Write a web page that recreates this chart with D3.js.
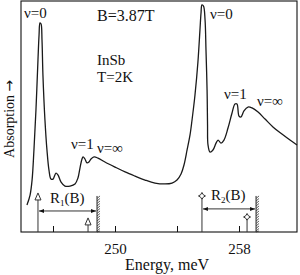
<!DOCTYPE html>
<html>
<head>
<meta charset="utf-8">
<script src="https://cdn.jsdelivr.net/npm/d3@7"></script>
<style>
  body { margin: 0; background: #fff; }
</style>
</head>
<body>
<div id="chart"></div>
<script>
// spectrum (energy in meV, absorption in arbitrary units)
var energy = [244.32, 244.52, 244.65, 244.77, 244.90, 245.03, 245.10, 245.16, 245.23, 245.29,
  245.35, 245.48, 245.61, 245.74, 245.87, 246.00, 246.19, 246.32, 246.52, 246.77,
  247.10, 247.42, 247.61, 247.74, 247.87, 247.94, 248.06, 248.19, 248.32, 248.45,
  248.65, 248.90, 249.35, 250.00, 250.65, 251.29, 251.94, 252.58, 253.23, 253.68,
  254.00, 254.26, 254.45, 254.65, 254.84, 254.97, 255.16, 255.35, 255.48, 255.55,
  255.61, 255.71, 255.81, 255.87, 255.94, 255.97, 256.00, 256.13, 256.32, 256.52,
  256.65, 256.84, 257.03, 257.29, 257.55, 257.74, 257.87, 258.00, 258.13, 258.32,
  258.58, 258.84, 259.23, 259.68, 260.19, 260.77, 261.29, 261.74];
var absorption = [11.7, 16.0, 22.5, 35.5, 52.8, 74.5, 85.3, 90.5, 90.0, 83.1,
  68.0, 48.5, 35.5, 26.8, 22.9, 22.9, 25.5, 24.7, 21.6, 19.9,
  19.9, 20.8, 23.4, 27.7, 31.6, 32.5, 31.6, 29.9, 30.3, 31.6,
  32.5, 32.0, 30.3, 28.1, 26.0, 24.2, 22.5, 21.2, 20.8, 21.2,
  22.5, 25.1, 29.0, 35.5, 42.0, 48.5, 59.3, 73.6, 87.4, 94.8,
  98.3, 97.8, 91.8, 78.8, 61.5, 46.3, 37.7, 34.6, 35.5, 38.5,
  39.8, 38.5, 39.8, 45.0, 51.5, 55.4, 55.4, 50.2, 49.8, 52.4,
  54.1, 53.7, 51.9, 48.9, 45.5, 42.4, 39.8, 37.7];

var tickValues = [246, 250, 254, 258];
var tickLabels = ["", "250", "", "258"];

// R(B) markers: start level, end level, wall position
var rNames = ["R", "R"];
var rSubs = ["1", "2"];
var rStart = [245.03, 255.61];
var rEnd = [248.26, 258.52];
var rWall = [248.84, 259.10];
var rArrowY = [9.1, 10.0];
var rStartTop = [16.9, 15.6];
var rEndTop = [6.1, 6.5];
var rWallTop = [15.6, 15.6];
var rLabelE = [245.81, 256.19];
var rLabelA = [12.6, 13.9];

var labelText = ["ν=0", "B=3.87T", "InSb", "T=2K", "ν=1", "ν=∞", "ν=0", "ν=1", "ν=∞"];
var labelE = [244.13, 248.84, 248.84, 248.84, 247.16, 248.84, 256.13, 257.03, 259.16];
var labelA = [92.6, 91.3, 72.3, 64.9, 35.9, 34.2, 92.2, 57.6, 54.5];

var serif = "Liberation Serif";
var width = 300, height = 275;
var margin = {top: 1, right: 3, bottom: 43, left: 21};

var svg = d3.select("#chart").append("svg")
  .attr("width", width)
  .attr("height", height)
  .attr("font-family", serif);

var x = d3.scaleLinear().domain([243.935, 261.742]).range([margin.left, width - margin.right]);
var y = d3.scaleLinear().domain([0, 100]).range([height - margin.bottom, margin.top]);

//frame
svg.append("rect")
  .attr("x", x.range()[0]).attr("y", y.range()[1])
  .attr("width", x.range()[1] - x.range()[0])
  .attr("height", y.range()[0] - y.range()[1])
  .attr("fill", "none").attr("stroke", "#111").attr("stroke-width", 1.1);

//bottom axis, ticks pointing inward
var xAxis = d3.axisBottom(x)
  .tickValues(tickValues)
  .tickFormat(function(d, i){ return tickLabels[i]; })
  .tickSizeInner(-6).tickSizeOuter(0).tickPadding(11);
var gx = svg.append("g").attr("transform", "translate(0," + y(0) + ")").call(xAxis);
gx.attr("font-family", serif).attr("font-size", 15);
gx.select(".domain").remove();
gx.selectAll(".tick line").attr("stroke", "#111");
gx.selectAll(".tick text").attr("fill", "#111");

//spectrum
var pts = energy.map(function(e, i){ return [e, absorption[i]]; });
var line = d3.line()
  .x(function(d){ return x(d[0]); })
  .y(function(d){ return y(d[1]); })
  .curve(d3.curveCatmullRom.alpha(0.5));
svg.append("path").datum(pts)
  .attr("d", line)
  .attr("fill", "none").attr("stroke", "#1a1a1a").attr("stroke-width", 1.3);

//labels
for (var i = 0; i < labelText.length; i++) {
  svg.append("text")
    .attr("x", x(labelE[i])).attr("y", y(labelA[i]))
    .attr("font-size", i == 1 ? 16 : 15).attr("fill", "#111")
    .text(labelText[i]);
}

//arrowheads for the horizontal R arrows
svg.append("defs").append("marker")
  .attr("id", "head").attr("viewBox", "0 0 10 10")
  .attr("refX", 10).attr("refY", 5)
  .attr("markerWidth", 5).attr("markerHeight", 5)
  .attr("orient", "auto-start-reverse")
  .append("path").attr("d", "M0,1L10,5L0,9Z").attr("fill", "#111");

function hollowTriangle(cx, top) {
  return "M" + cx + "," + top + "L" + (cx + 3) + "," + (top + 7) + "L" + (cx - 3) + "," + (top + 7) + "Z";
}
function hollowDiamond(cx, cy) {
  return "M" + cx + "," + (cy - 3.5) + "Q" + (cx + 0.8) + "," + (cy - 0.8) + " " + (cx + 3.5) + "," + cy +
    "Q" + (cx + 0.8) + "," + (cy + 0.8) + " " + cx + "," + (cy + 3.5) +
    "Q" + (cx - 0.8) + "," + (cy + 0.8) + " " + (cx - 3.5) + "," + cy +
    "Q" + (cx - 0.8) + "," + (cy - 0.8) + " " + cx + "," + (cy - 3.5) + "Z";
}

for (var k = 0; k < rStart.length; k++) {
  var g = svg.append("g");
  var base = y(0);
  var xs = x(rStart[k]), xe = x(rEnd[k]), xw = x(rWall[k]);
  var headTop = y(rStartTop[k]), endTop = y(rEndTop[k]);
  if (k == 0) {
    g.append("line").attr("x1", xs).attr("x2", xs).attr("y1", base).attr("y2", headTop + 7).attr("stroke", "#333");
    g.append("path").attr("d", hollowTriangle(xs, headTop)).attr("fill", "#fff").attr("stroke", "#333");
    g.append("line").attr("x1", xe).attr("x2", xe).attr("y1", base).attr("y2", endTop + 7).attr("stroke", "#333");
    g.append("path").attr("d", hollowTriangle(xe, endTop)).attr("fill", "#fff").attr("stroke", "#333");
  } else {
    g.append("line").attr("x1", xs).attr("x2", xs).attr("y1", base).attr("y2", headTop + 3.5).attr("stroke", "#333");
    g.append("path").attr("d", hollowDiamond(xs, headTop)).attr("fill", "#fff").attr("stroke", "#333");
    g.append("line").attr("x1", xe).attr("x2", xe).attr("y1", base).attr("y2", endTop + 3.5).attr("stroke", "#333");
    g.append("path").attr("d", hollowDiamond(xe, endTop)).attr("fill", "#fff").attr("stroke", "#333");
  }
  //double arrow
  g.append("line")
    .attr("x1", xs + 1).attr("x2", xw - 1)
    .attr("y1", y(rArrowY[k])).attr("y2", y(rArrowY[k]))
    .attr("stroke", "#333").attr("stroke-width", 1)
    .attr("marker-start", "url(#head)").attr("marker-end", "url(#head)");
  //hatched wall
  var wt = y(rWallTop[k]);
  g.append("line").attr("x1", xw).attr("x2", xw).attr("y1", wt).attr("y2", base).attr("stroke", "#222").attr("stroke-width", 1);
  for (var h = wt; h < base; h += 2.5) {
    g.append("line").attr("x1", xw).attr("y1", Math.min(h + 2.5, base)).attr("x2", xw + 3).attr("y2", h)
      .attr("stroke", "#333").attr("stroke-width", 0.8);
  }
  //label R_k(B)
  var t = g.append("text").attr("x", x(rLabelE[k])).attr("y", y(rLabelA[k]))
    .attr("font-size", 15).attr("fill", "#111");
  t.append("tspan").text(rNames[k]);
  t.append("tspan").attr("font-size", 9).attr("dy", 3).text(rSubs[k]);
  t.append("tspan").attr("dy", -3).text("(B)");
}

//axis titles
svg.append("text")
  .attr("x", x(250.65)).attr("y", 270)
  .attr("font-size", 16).attr("fill", "#111")
  .text("Energy, meV");
var yt = svg.append("text")
  .attr("transform", "translate(14," + y(49) + ") rotate(-90)")
  .attr("text-anchor", "middle")
  .attr("font-size", 14).attr("fill", "#111");
yt.append("tspan").text("Absorption ");
yt.append("tspan").attr("font-family", "DejaVu Sans").attr("font-size", 14).text("→");
</script>
</body>
</html>
